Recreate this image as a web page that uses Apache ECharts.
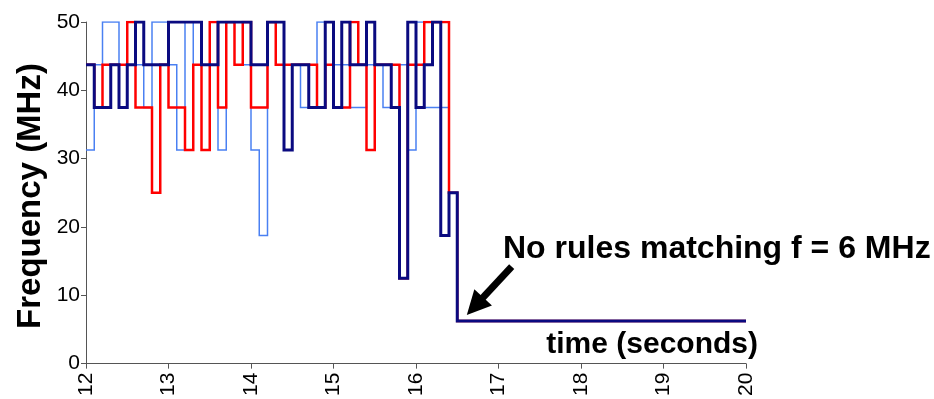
<!DOCTYPE html>
<html>
<head>
<meta charset="utf-8">
<script src="https://cdn.jsdelivr.net/npm/echarts@6/dist/echarts.min.js"></script>
<style>
  html, body { margin: 0; padding: 0; background: #fff; }
  #chart { width: 934px; height: 399px; }
</style>
</head>
<body>
<div id="chart"></div>
<script>
// sample times (s), each value holds until the next time
const times = [12.0, 12.1, 12.2, 12.3, 12.4, 12.5, 12.6, 12.7, 12.8, 12.9,
  13.0, 13.1, 13.2, 13.3, 13.4, 13.5, 13.6, 13.7, 13.8, 13.9,
  14.0, 14.1, 14.2, 14.3, 14.4, 14.5, 14.6, 14.7, 14.8, 14.9,
  15.0, 15.1, 15.2, 15.3, 15.4, 15.5, 15.6, 15.7, 15.8, 15.9,
  16.0, 16.1, 16.2, 16.3, 16.4, 16.5, 20.0];

// frequency in MHz
const blueFreq = [31.25, 43.75, 50, 50, 43.75, 43.75, 43.75, 37.5, 50, 50,
  43.75, 31.25, 50, 43.75, 43.75, 50, 31.25, 50, 50, 43.75,
  31.25, 18.75, 50, 43.75, 43.75, 43.75, 37.5, 37.5, 50, 43.75,
  43.75, 43.75, 37.5, 37.5, 43.75, 43.75, 37.5, 37.5, 43.75, 31.25,
  50, 37.5, 37.5, 37.5, 25, 6.25, 6.25];

const redFreq = [43.75, 37.5, 43.75, 43.75, 43.75, 50, 37.5, 37.5, 25, 43.75,
  37.5, 37.5, 31.25, 43.75, 31.25, 50, 37.5, 50, 43.75, 50,
  37.5, 37.5, 50, 43.75, 43.75, 43.75, 43.75, 43.75, 37.5, 43.75,
  37.5, 37.5, 50, 43.75, 31.25, 43.75, 43.75, 43.75, 12.5, 43.75,
  43.75, 50, 50, 50, 25, 6.25, 6.25];

const navyFreq = [43.75, 37.5, 37.5, 43.75, 37.5, 43.75, 50, 43.75, 43.75, 43.75,
  50, 50, 50, 50, 43.75, 43.75, 50, 50, 50, 50,
  43.75, 43.75, 50, 50, 31.25, 43.75, 43.75, 37.5, 37.5, 50,
  37.5, 50, 43.75, 43.75, 50, 43.75, 43.75, 37.5, 12.5, 50,
  37.5, 43.75, 50, 18.75, 25, 6.25, 6.25];

const xTicks = [12, 13, 14, 15, 16, 17, 18, 19, 20];
const yTicks = [0, 10, 20, 30, 40, 50];

// annotation arrow, in data coords (tail -> head)
const arrowFrom = [17.16, 14.2];
const arrowTo = [16.715, 8.4];

const FONT = "'Liberation Sans', Arial, sans-serif";

const pairs = vals => times.map((t, i) => [t, vals[i]]);

const chart = echarts.init(document.getElementById('chart'));

const stepLine = (name, vals, color, width) => ({
  name: name,
  type: 'line',
  step: 'end',
  data: pairs(vals),
  symbol: 'none',
  silent: true,
  lineStyle: { color: color, width: width, join: 'miter' }
});

const navy = stepLine('navy', navyFreq, '#0a0a80', 3);
navy.markLine = {
  silent: true,
  symbol: ['none', 'triangle'],
  symbolSize: [24, 24],
  label: { show: false },
  lineStyle: { color: '#000', width: 7, type: 'solid' },
  emphasis: { disabled: true },
  data: [[{ coord: arrowFrom }, { coord: arrowTo }]]
};

chart.setOption({
  animation: false,
  grid: { left: 86, right: 188, top: 22, bottom: 33, containLabel: false },
  xAxis: {
    type: 'value',
    min: xTicks[0],
    max: xTicks[xTicks.length - 1],
    interval: 1,
    axisLine: { lineStyle: { color: '#555', width: 1 } },
    axisTick: { show: true, length: 5, lineStyle: { color: '#555' } },
    axisLabel: { rotate: 90, margin: 9, color: '#000', fontSize: 21, fontFamily: FONT },
    splitLine: { show: false }
  },
  yAxis: {
    type: 'value',
    min: yTicks[0],
    max: yTicks[yTicks.length - 1],
    interval: 10,
    axisLine: { show: true, lineStyle: { color: '#555', width: 1 } },
    axisTick: { show: true, length: 5, lineStyle: { color: '#555' } },
    axisLabel: { margin: 6, color: '#000', fontSize: 21, fontFamily: FONT },
    splitLine: { show: false }
  },
  graphic: [
    {
      type: 'text', x: 31, y: 196, rotation: Math.PI / 2,
      style: { text: 'Frequency (MHz)', fill: '#000', font: 'bold 33px ' + FONT, align: 'center', verticalAlign: 'middle' }
    },
    {
      type: 'text', x: 503, y: 249,
      style: { text: 'No rules matching f = 6 MHz', fill: '#000', font: 'bold 32px ' + FONT, align: 'left', verticalAlign: 'middle' }
    },
    {
      type: 'text', x: 758, y: 345,
      style: { text: 'time (seconds)', fill: '#000', font: 'bold 30px ' + FONT, align: 'right', verticalAlign: 'middle' }
    }
  ],
  series: [
    stepLine('blue', blueFreq, '#4a80f2', 1.5),
    stepLine('red', redFreq, '#ff0000', 2.5),
    navy
  ]
});
</script>
</body>
</html>
